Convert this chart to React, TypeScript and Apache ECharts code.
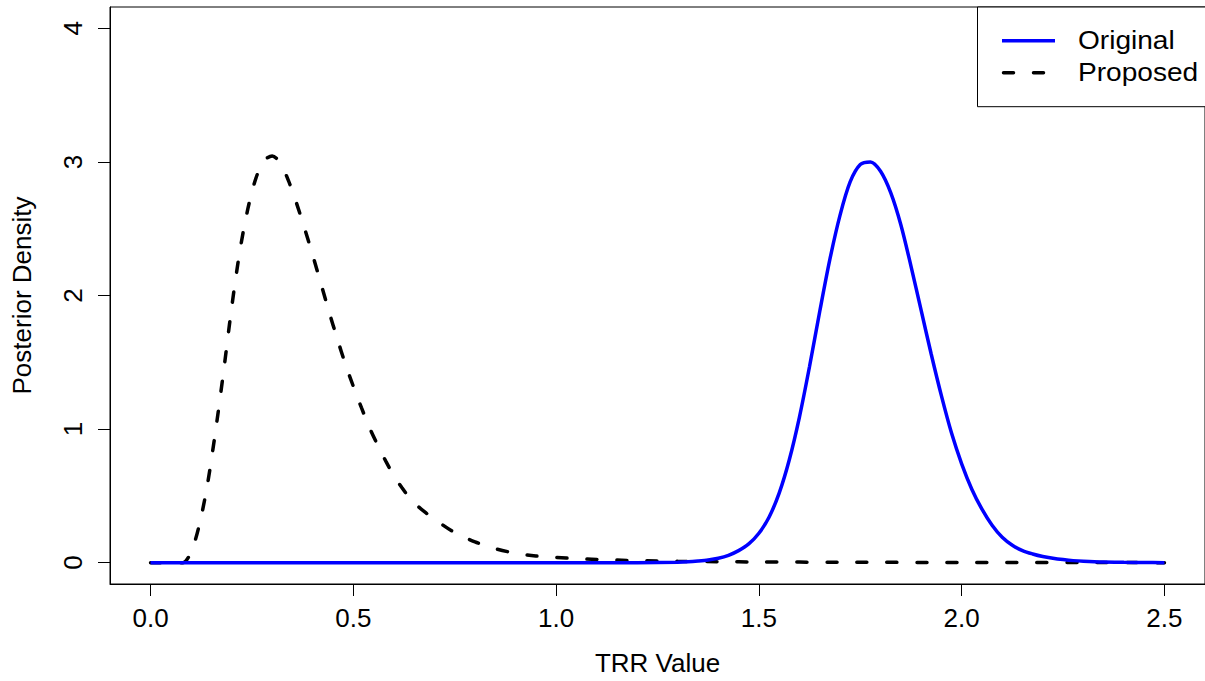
import React, { useEffect, useRef } from "react";
import * as echarts from "echarts";

// TRR values and posterior densities
const proposedX = [0, 0.05, 0.08, 0.1, 0.12, 0.14, 0.16, 0.18, 0.2, 0.22, 0.24, 0.26, 0.28, 0.3, 0.32, 0.34, 0.36, 0.38, 0.4, 0.42, 0.44, 0.46, 0.48, 0.5, 0.52, 0.54, 0.56, 0.58, 0.6, 0.62, 0.64, 0.66, 0.68, 0.7, 0.75, 0.8, 0.85, 0.9, 0.95, 1.0, 1.05, 1.1, 1.15, 1.2, 1.3, 1.4, 1.5, 1.7, 2.0, 2.5];
const proposedY = [0, 0, 0, 0.08, 0.28, 0.58, 0.98, 1.43, 1.91, 2.33, 2.65, 2.88, 3.01, 3.045, 2.99, 2.86, 2.69, 2.5, 2.3, 2.09, 1.88, 1.68, 1.49, 1.32, 1.16, 1.01, 0.88, 0.76, 0.65, 0.56, 0.48, 0.42, 0.37, 0.325, 0.225, 0.155, 0.105, 0.07, 0.05, 0.039, 0.03, 0.024, 0.019, 0.015, 0.01, 0.007, 0.005, 0.003, 0.001, 0];

const originalX = [0, 0.5, 1.0, 1.2, 1.3, 1.325, 1.35, 1.375, 1.4, 1.425, 1.45, 1.475, 1.5, 1.525, 1.55, 1.575, 1.6, 1.625, 1.65, 1.675, 1.7, 1.725, 1.75, 1.775, 1.8, 1.825, 1.85, 1.875, 1.9, 1.925, 1.95, 1.975, 2.0, 2.025, 2.05, 2.075, 2.1, 2.125, 2.15, 2.175, 2.2, 2.225, 2.25, 2.275, 2.3, 2.35, 2.4, 2.45, 2.5];
const originalY = [0, 0, 0, 0, 0.003, 0.006, 0.012, 0.02, 0.033, 0.055, 0.09, 0.14, 0.22, 0.34, 0.52, 0.77, 1.09, 1.47, 1.88, 2.27, 2.6, 2.85, 2.98, 3.0, 2.93, 2.77, 2.53, 2.22, 1.89, 1.56, 1.25, 0.97, 0.74, 0.55, 0.4, 0.28, 0.19, 0.13, 0.09, 0.065, 0.046, 0.033, 0.023, 0.015, 0.01, 0.004, 0.002, 0.001, 0];

const xTicks = [0, 0.5, 1.0, 1.5, 2.0, 2.5];
const yTicks = [0, 1, 2, 3, 4];
const seriesNames = ["Original", "Proposed"];

const FONT = "'Liberation Sans', Arial, Helvetica, sans-serif";
const FS = 26;

export default function App() {
  const ref = useRef<HTMLDivElement>(null);
  useEffect(() => {
    if (!ref.current) return;
    const chart = echarts.init(ref.current, null, { renderer: "svg" });
    const pairs = (xs: number[], ys: number[]) => xs.map((x, i) => [x, ys[i]]);
    chart.setOption({
      animation: false,
      backgroundColor: "#ffffff",
      textStyle: { fontFamily: FONT },
      grid: {
        left: 110,
        top: 7,
        width: 1101.6,
        height: 580.6,
        show: true,
        borderColor: "#000",
        borderWidth: 1,
        backgroundColor: "transparent",
      },
      xAxis: {
        type: "value",
        min: -0.1,
        max: 2.6,
        name: "TRR Value",
        nameLocation: "middle",
        nameGap: 66,
        nameTextStyle: { fontSize: FS, color: "#000", fontFamily: FONT },
        axisLine: { show: true, onZero: false, lineStyle: { color: "#000", width: 1 } },
        splitLine: { show: false },
        axisTick: { show: true, length: 12, customValues: xTicks, lineStyle: { color: "#000", width: 1 } },
        axisLabel: {
          customValues: xTicks,
          fontSize: FS,
          color: "#000",
          margin: 21,
          fontFamily: FONT,
          formatter: (v: number) => v.toFixed(1),
        },
      },
      yAxis: {
        type: "value",
        min: -0.16,
        max: 4.16,
        name: "Posterior Density",
        nameLocation: "middle",
        nameGap: 75,
        nameTextStyle: { fontSize: FS, color: "#000", fontFamily: FONT },
        axisLine: { show: true, onZero: false, lineStyle: { color: "#000", width: 1 } },
        splitLine: { show: false },
        axisTick: { show: true, length: 12, customValues: yTicks, lineStyle: { color: "#000", width: 1 } },
        axisLabel: {
          customValues: yTicks,
          fontSize: FS,
          color: "#000",
          margin: 24,
          rotate: 90,
          fontFamily: FONT,
          formatter: (v: number) => String(Math.round(v)),
        },
      },
      series: [
        {
          name: seriesNames[1],
          type: "line",
          data: pairs(proposedX, proposedY),
          showSymbol: false,
          symbol: "none",
          smooth: 0.3,
          lineStyle: { color: "#000", width: 3.5, type: [10, 20], cap: "round" },
          z: 2,
        },
        {
          name: seriesNames[0],
          type: "line",
          data: pairs(originalX, originalY),
          showSymbol: false,
          symbol: "none",
          smooth: 0.3,
          lineStyle: { color: "#0000ff", width: 3.5, type: "solid" },
          z: 3,
        },
      ],
      graphic: [
        {
          type: "rect",
          z: 100,
          shape: { x: 977.5, y: 7, width: 260, height: 99.7 },
          style: { fill: "#fff", stroke: "#000", lineWidth: 1 },
        },
        {
          type: "line",
          z: 101,
          shape: { x1: 1002, y1: 40.7, x2: 1055, y2: 40.7 },
          style: { stroke: "#0000ff", lineWidth: 3.5 },
        },
        {
          type: "line",
          z: 101,
          shape: { x1: 1003.5, y1: 72.7, x2: 1055, y2: 72.7 },
          style: { stroke: "#000", lineWidth: 3.5, lineDash: [10, 20], lineCap: "round" },
        },
        {
          type: "text",
          z: 101,
          x: 1078,
          y: 40.7,
          scaleX: 1.08,
          style: { text: seriesNames[0], fontSize: FS, fill: "#000", fontFamily: FONT, verticalAlign: "middle", align: "left" },
        },
        {
          type: "text",
          z: 101,
          x: 1078,
          y: 72.7,
          scaleX: 1.08,
          style: { text: seriesNames[1], fontSize: FS, fill: "#000", fontFamily: FONT, verticalAlign: "middle", align: "left" },
        },
      ],
    });
    return () => chart.dispose();
  }, []);
  return (
    <div
      ref={ref}
      style={{ position: "fixed", left: 0, top: 0, width: 1205, height: 681, background: "#fff" }}
    />
  );
}
